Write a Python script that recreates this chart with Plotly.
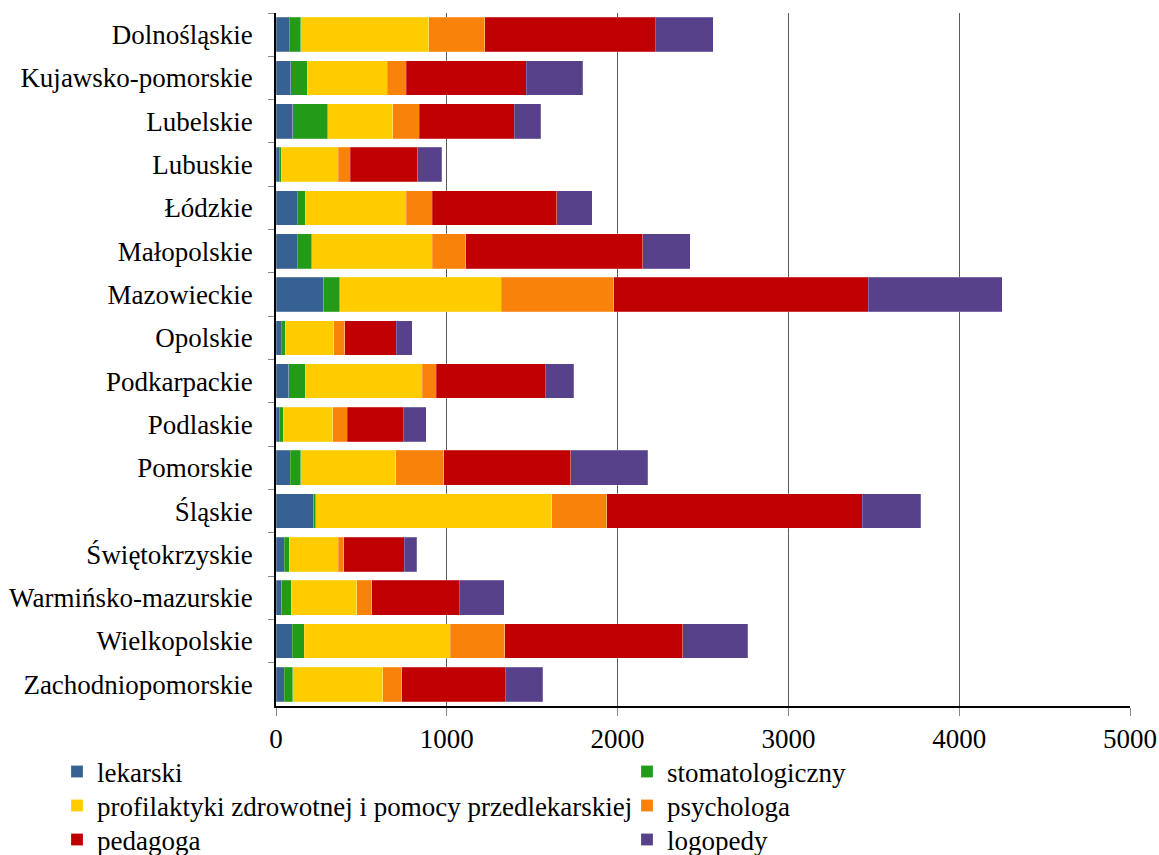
import plotly.graph_objects as go

categories = ["Dolnośląskie", "Kujawsko-pomorskie", "Lubelskie", "Lubuskie", "Łódzkie",
              "Małopolskie", "Mazowieckie", "Opolskie", "Podkarpackie", "Podlaskie",
              "Pomorskie", "Śląskie", "Świętokrzyskie", "Warmińsko-mazurskie",
              "Wielkopolskie", "Zachodniopomorskie"]

lekarski = [78, 86, 99, 18, 125, 125, 281, 31, 76, 19, 82, 222, 47, 33, 94, 49]
stomatologiczny = [68, 97, 205, 13, 45, 85, 93, 24, 94, 24, 64, 12, 31, 55, 72, 50]
profilaktyki = [747, 468, 380, 332, 594, 706, 944, 282, 686, 290, 556, 1380, 285, 386, 855, 525]
psychologa = [329, 113, 154, 72, 150, 195, 658, 66, 82, 84, 280, 321, 35, 87, 318, 113]
pedagoga = [998, 700, 556, 395, 731, 1037, 1491, 300, 639, 327, 745, 1497, 353, 511, 1043, 604]
logopedy = [341, 331, 155, 139, 207, 277, 786, 94, 165, 137, 450, 343, 72, 263, 379, 220]

series_names = ["lekarski", "stomatologiczny",
                "profilaktyki zdrowotnej i pomocy przedlekarskiej", "psychologa",
                "pedagoga", "logopedy"]
series_values = [lekarski, stomatologiczny, profilaktyki, psychologa, pedagoga, logopedy]
series_colors = ["#376192", "#239A18", "#FFCC00", "#F8820A", "#C00000", "#57418B"]

FONT = "Liberation Serif, Times New Roman, serif"
W, H = 1159, 855

# legend entry placement (two columns, three rows), in page pixels
legend_x = [57, 627, 57, 627, 57, 627]
legend_yc = [772, 772, 806, 806, 840, 840]

fig = go.Figure()
legend_layout = {}
for i, (name, vals, color) in enumerate(zip(series_names, series_values, series_colors)):
    key = "legend" if i == 0 else f"legend{i + 1}"
    fig.add_trace(go.Bar(
        y=categories, x=vals, name=name, orientation="h",
        marker=dict(color=color, line=dict(color="rgba(255,255,255,0.35)", width=0.6)),
        legend=key, showlegend=True,
    ))
    legend_layout[key] = dict(
        x=legend_x[i] / W, y=1 - legend_yc[i] / H,
        xref="container", yref="container", xanchor="left", yanchor="middle",
        orientation="v", font=dict(family=FONT, size=27, color="#000000"),
        bgcolor="rgba(0,0,0,0)", itemwidth=30, visible=True,
    )

fig.update_layout(
    width=W, height=H, showlegend=True,
    barmode="stack", bargap=0.2,
    plot_bgcolor="white", paper_bgcolor="white",
    margin=dict(l=276, r=29, t=13, b=149, autoexpand=False),
    font=dict(family=FONT, size=27, color="#000000"),
    xaxis=dict(
        range=[0, 5000], tickvals=[0, 1000, 2000, 3000, 4000, 5000],
        showgrid=True, gridcolor="#5a5a5a", gridwidth=1,
        showline=True, linecolor="#000000", linewidth=1.5,
        ticks="outside", ticklen=8, tickcolor="#888888",
        zeroline=False, tickfont=dict(family=FONT, size=27), automargin=False,
    ),
    yaxis=dict(
        autorange="reversed", showline=True, linecolor="#000000", linewidth=1.5,
        ticks="outside", ticklen=6, tickcolor="#888888", tickson="boundaries",
        ticklabelstandoff=16, tickfont=dict(family=FONT, size=27), automargin=False,
    ),
    **legend_layout,
)

fig.write_html(
    "out.html",
    config={"displayModeBar": False},
    post_script="document.body.style.margin='0';document.body.style.overflow='hidden';",
)
